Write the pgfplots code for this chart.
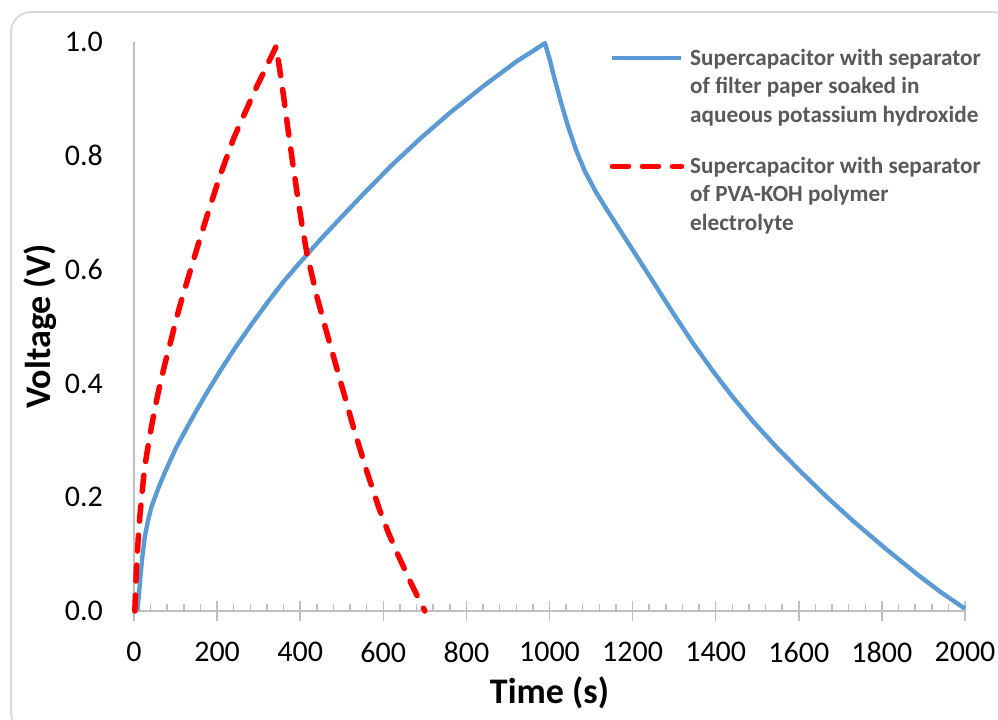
\documentclass[border=0pt]{standalone}
\usepackage{pgfplots}
\pgfplotsset{compat=1.18}
\usepackage{fontspec}
\setmainfont{Carlito}

\definecolor{bluec}{RGB}{91,155,213}
\definecolor{axgray}{RGB}{191,191,191}
\definecolor{txtgray}{RGB}{89,89,89}
\definecolor{bordergray}{RGB}{217,217,217}

\begin{document}
\begin{tikzpicture}
\path[use as bounding box] (0,0) rectangle (499pt,-359.5pt);
\clip (0,0) rectangle (499pt,-359.5pt);
\draw[bordergray, line width=0.9pt, rounded corners=10pt] (5.5pt,-6pt) rectangle (506pt,-366pt);
\begin{axis}[
  at={(67pt,-305.5pt)}, anchor=south west,
  scale only axis, width=415.5pt, height=284.5pt,
  xmin=0, xmax=2000, ymin=0, ymax=1,
  clip=false,
  axis x line*=bottom, axis y line*=left,
  axis line style={axgray, line width=0.75pt},
  xtick={0,200,...,2000}, minor x tick num=4,
  ytick={0,0.2,0.4,0.6,0.8,1},
  tick align=center,
  major tick length=10pt, minor tick length=3.5pt,
  x tick style={axgray, line width=0.75pt},
  y tick style={draw=none},
  every minor tick/.append style={yshift=1.75pt},
  /pgf/number format/assume math mode=true,
  tick label style={font=\fontsize{15}{18}\selectfont, text=black},
  xticklabel style={/pgf/number format/1000 sep={}, yshift=-7pt},
  yticklabel style={/pgf/number format/fixed, /pgf/number format/fixed zerofill,
    /pgf/number format/precision=1, xshift=-7pt},
  xlabel={Time (s)}, ylabel={Voltage (V)},
  every axis x label/.style={at={(axis description cs:0.5,-0.1617)}, anchor=base,
    font=\fontsize{18}{22}\selectfont\bfseries, text=black},
  every axis y label/.style={at={(axis description cs:-0.101,0.5)}, anchor=base, rotate=90,
    font=\fontsize{18}{22}\selectfont\bfseries, text=black},
  legend style={at={(axis description cs:0.572,0.988)}, anchor=north west,
    draw=none, fill=none, inner sep=0pt, row sep=16pt, column sep=3pt,
    nodes={inner sep=0pt, align=left, text=txtgray,
      font=\fontsize{11.6}{14.2}\selectfont\bfseries}},
  legend cell align=left,
  legend image code/.code={\draw[#1] (0pt,14.5pt) -- (34.5pt,14.5pt);},
]
% filter paper + KOH
\addplot[bluec, line width=2.2pt, line join=round] coordinates {
(8,0) (12,0.03) (16,0.065) (20,0.095) (26,0.13) (34,0.16) (42,0.183)
(58,0.215) (74,0.243) (100,0.285) (122,0.315) (150,0.352) (178,0.387)
(210,0.425) (243,0.462) (280,0.501) (323,0.544) (360,0.579) (400,0.613)
(450,0.654) (504,0.696) (560,0.739) (624,0.786) (690,0.831) (761,0.876)
(840,0.922) (921,0.966) (960,0.984) (989,0.998)
(1001,0.968) (1013,0.933) (1028,0.893) (1045,0.851) (1064,0.810)
(1085,0.773) (1112,0.736) (1141,0.702) (1170,0.669) (1199,0.636)
(1250,0.578) (1298,0.523) (1345,0.471) (1394,0.421)
(1440,0.377) (1490,0.333) (1545,0.289) (1603,0.246) (1665,0.202)
(1731,0.158) (1805,0.112) (1884,0.065) (1940,0.034) (2000,0.004)
};
\addlegendentry{Supercapacitor with separator\\of filter paper soaked in\\aqueous potassium hydroxide}
% PVA-KOH
\addplot[red, line width=2.75pt, line cap=round, line join=round,
  dash pattern=on 8pt off 7pt] coordinates {
(2,0) (4,0.04) (6,0.078) (10,0.125) (14,0.166) (20,0.212) (26,0.254)
(34,0.29) (42,0.324) (52,0.362) (63,0.400) (75,0.436) (87,0.470)
(100,0.508) (111,0.538) (135,0.597) (159,0.655) (183,0.711) (207,0.765)
(240,0.831) (271,0.882) (295,0.921) (319,0.957) (342,0.992)
(350,0.955) (360,0.905) (370,0.850) (381,0.792) (392,0.737)
(404,0.680) (416,0.629) (440,0.553) (464,0.489) (496,0.406) (528,0.323)
(560,0.246) (590,0.180) (612,0.138) (632,0.104) (664,0.053) (682,0.026)
(700,0)
};
\addlegendentry{Supercapacitor with separator\\of PVA-KOH polymer\\electrolyte}
\end{axis}
\end{tikzpicture}
\end{document}
